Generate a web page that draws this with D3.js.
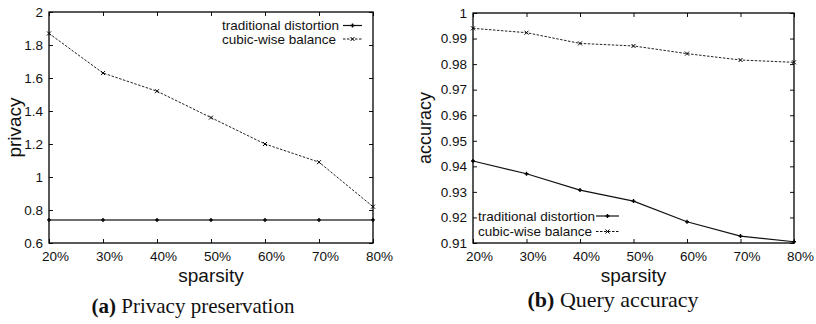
<!DOCTYPE html>
<html>
<head>
<meta charset="utf-8">
<script src="https://cdn.jsdelivr.net/npm/d3@7"></script>
<style>
  html, body { margin: 0; padding: 0; background: #fff; }
  svg { display: block; }
  .tick text { font-family: "Liberation Sans", Arial, Helvetica, sans-serif; font-size: 13.5px; fill: #111; }
</style>
</head>
<body>
<svg id="chart" width="816" height="324"></svg>
<script>
const categories = ["20%", "30%", "40%", "50%", "60%", "70%", "80%"];
const seriesNames = ["traditional distortion", "cubic-wise balance"];

const privacyTraditional = [0.74, 0.74, 0.74, 0.74, 0.74, 0.74, 0.74];
const privacyCubic = [1.87, 1.63, 1.52, 1.36, 1.20, 1.09, 0.82];
const privacyTicks = [0.6, 0.8, 1, 1.2, 1.4, 1.6, 1.8, 2];

const accuracyTraditional = [0.9421, 0.9371, 0.9307, 0.9264, 0.9183, 0.9127, 0.9105];
const accuracyCubic = [0.9940, 0.9923, 0.9881, 0.9871, 0.9841, 0.9816, 0.9807];
const accuracyTicks = [0.91, 0.92, 0.93, 0.94, 0.95, 0.96, 0.97, 0.98, 0.99, 1];

const svg = d3.select("#chart");
const sans = '"Liberation Sans", Arial, Helvetica, sans-serif';
const serif = '"Liberation Serif", "Times New Roman", Times, serif';

function panel(cfg) {
  const g = svg.append("g");
  const x = d3.scalePoint().domain(categories).range([cfg.left, cfg.right]).padding(0);
  const y = d3.scaleLinear().domain(cfg.domain).range([cfg.bottom, cfg.top]);
  const fmt = d => String(+d.toFixed(2));

  // axes (inward ticks, mirrored)
  const ax = g.append("g").attr("transform", `translate(0,${cfg.bottom})`)
    .call(d3.axisBottom(x).tickSize(-4).tickPadding(8.4));
  ax.selectAll("text").attr("x", 6);
  const ay = g.append("g").attr("transform", `translate(${cfg.left},0)`)
    .call(d3.axisLeft(y).tickValues(cfg.ticks).tickFormat(fmt).tickSize(-4).tickPadding(6));
  const at = g.append("g").attr("transform", `translate(0,${cfg.top})`)
    .call(d3.axisTop(x).tickSize(-4).tickFormat(""));
  const ar = g.append("g").attr("transform", `translate(${cfg.right},0)`)
    .call(d3.axisRight(y).tickValues(cfg.ticks).tickSize(-4).tickFormat(""));
  [ax, ay, at, ar].forEach(a => {
    a.select(".domain").remove();
    a.selectAll(".tick line").attr("stroke", "#111").attr("stroke-width", 1);
  });

  // frame
  g.append("rect")
    .attr("x", cfg.left).attr("y", cfg.top)
    .attr("width", cfg.right - cfg.left).attr("height", cfg.bottom - cfg.top)
    .attr("fill", "none").attr("stroke", "#000").attr("stroke-width", 1.3);

  const line = d3.line().x((d, i) => x(categories[i])).y(d => y(d));

  // cubic-wise balance (dashed, x markers)
  g.append("path").datum(cfg.cubic).attr("d", line)
    .attr("fill", "none").attr("stroke", "#222").attr("stroke-width", 1)
    .attr("stroke-dasharray", "2.5,1.5");
  // traditional distortion (solid, + markers)
  g.append("path").datum(cfg.trad).attr("d", line)
    .attr("fill", "none").attr("stroke", cfg.tradColor).attr("stroke-width", cfg.tradWidth);

  const plus = (sel, cx, cy) => sel.append("path")
    .attr("d", `M${cx - 2},${cy}H${cx + 2}M${cx},${cy - 2}V${cy + 2}`)
    .attr("stroke", "#000").attr("stroke-width", 1.4);
  const cross = (sel, cx, cy) => sel.append("path")
    .attr("d", `M${cx - 2},${cy - 2}L${cx + 2},${cy + 2}M${cx - 2},${cy + 2}L${cx + 2},${cy - 2}`)
    .attr("stroke", "#000").attr("stroke-width", 1);

  cfg.trad.forEach((d, i) => plus(g, x(categories[i]), y(d)));
  cfg.cubic.forEach((d, i) => cross(g, x(categories[i]), y(d)));

  // legend
  const lg = g.append("g");
  seriesNames.forEach((name, i) => {
    const cy = cfg.legendRows[i];
    lg.append("text").attr("x", cfg.legendX).attr("y", cy).attr("dy", "0.35em")
      .attr("font-family", sans).attr("font-size", 13.5).attr("fill", "#111").text(name);
    const s = lg.append("line").attr("x1", cfg.sample[0]).attr("x2", cfg.sample[1])
      .attr("y1", cy).attr("y2", cy).attr("stroke", "#111");
    const mx = (cfg.sample[0] + cfg.sample[1]) / 2;
    if (i === 0) { s.attr("stroke-width", 1.2); plus(lg, mx, cy); }
    else { s.attr("stroke-width", 1).attr("stroke-dasharray", "2.5,1.5"); cross(lg, mx, cy); }
  });

  // axis titles
  g.append("text").attr("x", (cfg.left + cfg.right) / 2).attr("y", 281.5)
    .attr("text-anchor", "middle").attr("font-family", sans).attr("font-size", 19)
    .attr("fill", "#111").text("sparsity");
  g.append("text")
    .attr("transform", `translate(${cfg.yTitleX},${(cfg.top + cfg.bottom) / 2}) rotate(-90)`)
    .attr("text-anchor", "middle").attr("font-family", sans).attr("font-size", cfg.yTitleSize)
    .attr("fill", "#111").text(cfg.yTitle);

  // caption
  const cap = g.append("text").attr("x", cfg.capX).attr("y", cfg.capY)
    .attr("text-anchor", "middle").attr("font-family", serif).attr("font-size", cfg.capSize)
    .attr("fill", "#111");
  cap.append("tspan").attr("font-weight", "bold").text(cfg.capLabel);
  cap.append("tspan").text(" " + cfg.capText);
}

panel({
  left: 49, right: 373, top: 12, bottom: 243,
  domain: [0.6, 2], ticks: privacyTicks,
  trad: privacyTraditional, cubic: privacyCubic,
  tradColor: "#6e6e6e", tradWidth: 2,
  legendX: 222, legendRows: [25.5, 39], sample: [343, 362],
  yTitle: "privacy", yTitleX: 21, yTitleSize: 19,
  capX: 193, capY: 313, capSize: 21, capLabel: "(a)", capText: "Privacy preservation"
});

panel({
  left: 473, right: 794, top: 13, bottom: 243,
  domain: [0.91, 1], ticks: accuracyTicks,
  trad: accuracyTraditional, cubic: accuracyCubic,
  tradColor: "#111", tradWidth: 1.2,
  legendX: 478, legendRows: [216, 231.5], sample: [596, 619],
  yTitle: "accuracy", yTitleX: 431, yTitleSize: 18,
  capX: 613, capY: 307, capSize: 22, capLabel: "(b)", capText: "Query accuracy"
});
</script>
</body>
</html>
